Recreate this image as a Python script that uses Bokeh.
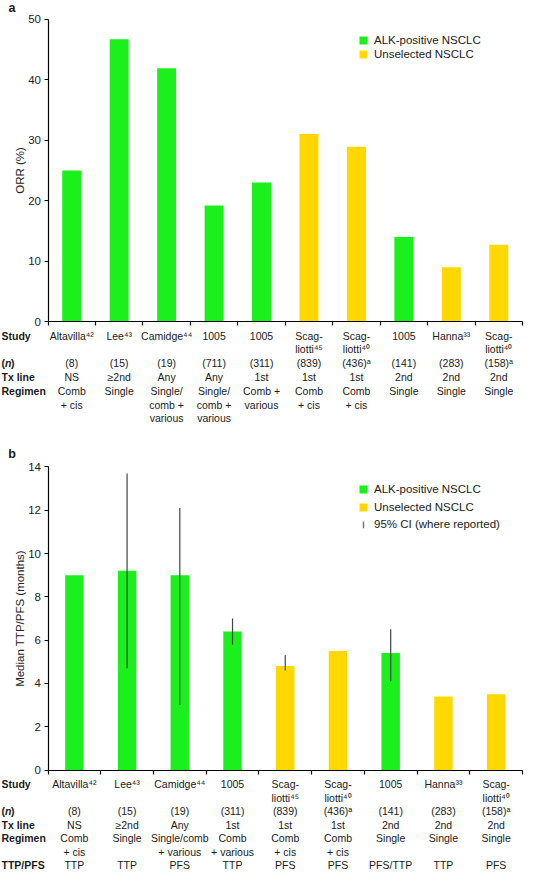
import math
from bokeh.plotting import figure
from bokeh.models import (Range1d, LinearAxis, FixedTicker, Legend, LegendItem,
                          ColumnDataSource)
from bokeh.layouts import column
from bokeh.core.properties import value
from bokeh.embed import file_html
from bokeh.resources import INLINE

# ---------------- data: panel a (ORR) ----------------
studies_a = ["Altavilla⁴²", "Lee⁴³", "Camidge⁴⁴", "1005", "1005", "Scag-\nliotti⁴⁵",
             "Scag-\nliotti⁴⁰", "1005", "Hanna³³", "Scag-\nliotti⁴⁰"]
n_a = ["(8)", "(15)", "(19)", "(711)", "(311)", "(839)", "(436)ᵃ", "(141)", "(283)", "(158)ᵃ"]
txline_a = ["NS", "≥2nd", "Any", "Any", "1st", "1st", "1st", "2nd", "2nd", "2nd"]
regimen_a = ["Comb\n+ cis", "Single", "Single/\ncomb +\nvarious", "Single/\ncomb +\nvarious",
             "Comb +\nvarious", "Comb\n+ cis", "Comb\n+ cis", "Single", "Single", "Single"]
orr = [25.0, 46.7, 41.9, 19.2, 23.0, 31.0, 28.9, 14.0, 9.0, 12.7]
group_a = ["ALK", "ALK", "ALK", "ALK", "ALK", "Unsel", "Unsel", "ALK", "Unsel", "Unsel"]
yticks_a = [0, 10, 20, 30, 40, 50]

# ---------------- data: panel b (TTP/PFS) ----------------
studies_b = ["Altavilla⁴²", "Lee⁴³", "Camidge⁴⁴", "1005", "Scag-\nliotti⁴⁵", "Scag-\nliotti⁴⁰",
             "1005", "Hanna³³", "Scag-\nliotti⁴⁰"]
n_b = ["(8)", "(15)", "(19)", "(311)", "(839)", "(436)ᵃ", "(141)", "(283)", "(158)ᵃ"]
txline_b = ["NS", "≥2nd", "Any", "1st", "1st", "1st", "2nd", "2nd", "2nd"]
regimen_b = ["Comb\n+ cis", "Single", "Single/comb\n+ various", "Comb\n+ various", "Comb\n+ cis",
             "Comb\n+ cis", "Single", "Single", "Single"]
endpoint_b = ["TTP", "TTP", "PFS", "TTP", "PFS", "PFS", "PFS/TTP", "TTP", "PFS"]
median = [9.0, 9.2, 9.0, 6.4, 4.8, 5.5, 5.4, 3.4, 3.5]
ci_low = [None, 4.7, 3.0, 5.8, 4.6, None, 4.1, None, None]
ci_high = [None, 13.7, 12.1, 7.0, 5.3, None, 6.5, None, None]
group_b = ["ALK", "ALK", "ALK", "ALK", "Unsel", "Unsel", "ALK", "Unsel", "Unsel"]
yticks_b = [0, 2, 4, 6, 8, 10, 12, 14]

series_labels = {"ALK": "ALK-positive NSCLC", "Unsel": "Unselected NSCLC"}
ci_label = "95% CI (where reported)"

# ---------------- style / layout ----------------
FONT = "Liberation Sans"
GREEN = "#1CF01C"
YELLOW = "#FFD800"
INK = "#1a1a1a"
W = 524
AXIS_X = 47.5
AXIS_END = 522.0


def make_frame(height, ncat, ymax, ymax_px, y0_px):
    kx = (AXIS_END - AXIS_X) / ncat
    xs = -0.5 - AXIS_X / kx
    xe = xs + W / kx
    ky = (y0_px - ymax_px) / ymax
    ye = ymax + ymax_px / ky
    ys = -(height - y0_px) / ky
    p = figure(width=W, height=height, x_range=Range1d(xs, xe), y_range=Range1d(ys, ye),
               output_backend="svg", toolbar_location=None, tools="",
               x_axis_location=None, y_axis_location=None, min_border=0,
               outline_line_color=None, background_fill_color="white",
               border_fill_color="white")
    p.grid.visible = False

    def px_x(px):
        return xs + px / kx

    def px_y(px):
        return (y0_px - px) / ky
    return p, px_x, px_y


def add_axes(p, ncat, ymax, yticks, ylabel):
    yax = LinearAxis(fixed_location=-0.5, bounds=(0, ymax), ticker=FixedTicker(ticks=yticks),
                     axis_label=ylabel)
    xt = [i - 0.5 for i in range(ncat + 1)]
    xax = LinearAxis(fixed_location=0, bounds=(-0.5, ncat - 0.5), ticker=FixedTicker(ticks=xt),
                     major_label_overrides={t: "" for t in xt})
    for ax in (yax, xax):
        ax.axis_line_color = "black"
        ax.axis_line_width = 1.2
        ax.major_tick_line_color = "black"
        ax.major_tick_line_width = 1.2
        ax.major_tick_in = 0
        ax.major_tick_out = 4
        ax.minor_tick_line_color = None
        ax.major_label_text_font = FONT
        ax.major_label_text_font_size = "11.5px"
        ax.major_label_text_color = "#222222"
        ax.major_label_standoff = 3
        ax.axis_label_text_font = FONT
        ax.axis_label_text_font_size = "11.5px"
        ax.axis_label_text_font_style = "normal"
        ax.axis_label_text_color = "#222222"
        ax.axis_label_standoff = 0
    p.add_layout(yax, "left")
    p.add_layout(xax, "below")


def add_bars(p, values, groups, width):
    rends = {}
    for grp, color in (("ALK", GREEN), ("Unsel", YELLOW)):
        idx = [i for i, g in enumerate(groups) if g == grp]
        src = ColumnDataSource(dict(x=idx, top=[values[i] for i in idx]))
        rends[grp] = p.vbar(x="x", top="top", bottom=0, width=width, source=src,
                            fill_color=color, line_color=None)
    return rends


def add_table(p, px_x, px_y, cols, row_px, headers):
    xs, ys, ts = [], [], []
    for start, vals in cols:
        for i, v in enumerate(vals):
            for j, line in enumerate(v.split("\n")):
                xs.append(i)
                ys.append(px_y(row_px[start + j]))
                ts.append(line)
    p.text(x=xs, y=ys, text=ts, text_align="center", text_baseline="middle",
           text_font=value(FONT), text_font_size="10.5px", text_color=INK)
    hx, hy, ht = [], [], []
    for row, label in headers:
        if label == "(n)":
            continue
        hx.append(px_x(1))
        hy.append(px_y(row_px[row]))
        ht.append(label)
    p.text(x=hx, y=hy, text=ht, text_align="left", text_baseline="middle",
           text_font=value(FONT), text_font_size="10.5px", text_font_style="bold", text_color=INK)
    # "(n)" with italic n
    nrow = [r for r, l in headers if l == "(n)"][0]
    yy = px_y(row_px[nrow])
    p.text(x=[px_x(1), px_x(10.6)], y=[yy, yy], text=["(", ")"], text_align="left",
           text_baseline="middle", text_font=value(FONT), text_font_size="10.5px",
           text_font_style="bold", text_color=INK)
    p.text(x=[px_x(4.5)], y=[yy], text=["n"], text_align="left", text_baseline="middle",
           text_font=value(FONT), text_font_size="10.5px", text_font_style="bold italic",
           text_color=INK)


def add_letter(p, px_x, px_y, letter, ypx):
    p.text(x=[px_x(11.6)], y=[px_y(ypx)], text=[letter], text_align="center",
           text_baseline="middle", text_font=value(FONT), text_font_size="12.5px",
           text_font_style="bold", text_color=INK)


def style_legend(leg, item_h, glyph, standoff):
    leg.glyph_width = glyph
    leg.glyph_height = glyph
    leg.label_height = item_h
    leg.label_standoff = standoff
    leg.spacing = 0
    leg.padding = 0
    leg.margin = 0
    leg.border_line_color = None
    leg.background_fill_alpha = 0
    leg.label_text_font = FONT
    leg.label_text_font_size = "11.5px"
    leg.label_text_color = INK


# ---------------- panel a ----------------
HA = 424
NA = len(orr)
pa, ax_x, ax_y = make_frame(HA, NA, 50, 18.7, 321.1)
add_axes(pa, NA, 50, yticks_a, "ORR (%)")
ra = add_bars(pa, orr, group_a, 0.4)
rows_a = [335 + 13.8 * k for k in range(7)]
add_table(pa, ax_x, ax_y,
          [(0, studies_a), (2, n_a), (3, txline_a), (4, regimen_a)], rows_a,
          [(0, "Study"), (2, "(n)"), (3, "Tx line"), (4, "Regimen")])
add_letter(pa, ax_x, ax_y, "a", 7.2)
leg_a = Legend(items=[LegendItem(label=series_labels["ALK"], renderers=[ra["ALK"]]),
                      LegendItem(label=series_labels["Unsel"], renderers=[ra["Unsel"]])],
               location=(358, HA - 61.3))
style_legend(leg_a, 14, 10, 6)
pa.add_layout(leg_a)

# ---------------- panel b ----------------
HB = 448
NB = len(median)
pb, bx_x, bx_y = make_frame(HB, NB, 14, 42.45, 345.5)
add_axes(pb, NB, 14, yticks_b, "Median TTP/PFS (months)")
rb = add_bars(pb, median, group_b, 0.35)
ci_idx = [i for i in range(NB) if ci_low[i] is not None]
ci_src = ColumnDataSource(dict(x=ci_idx, lo=[ci_low[i] for i in ci_idx],
                               hi=[ci_high[i] for i in ci_idx]))
ci_r = pb.segment(x0="x", y0="lo", x1="x", y1="hi", source=ci_src, line_color="#444444",
                  line_width=1.2)
rows_b = [359.6 + 13.5 * k for k in range(7)]
add_table(pb, bx_x, bx_y,
          [(0, studies_b), (2, n_b), (3, txline_b), (4, regimen_b), (6, endpoint_b)], rows_b,
          [(0, "Study"), (2, "(n)"), (3, "Tx line"), (4, "Regimen"), (6, "TTP/PFS")])
add_letter(pb, bx_x, bx_y, "b", 29.4)
leg_b = Legend(items=[LegendItem(label=series_labels["ALK"], renderers=[rb["ALK"]]),
                      LegendItem(label=series_labels["Unsel"], renderers=[rb["Unsel"]])],
               location=(358, HB - 91.7))
style_legend(leg_b, 18, 10, 6)
pb.add_layout(leg_b)

# CI key: legend label with an invisible glyph, plus a short vertical tick drawn
# at the legend glyph position (Bokeh legends cannot draw vertical line keys)
ci_hidden = pb.scatter(x=[float("nan")], y=[float("nan")], marker="square", size=1,
                       fill_alpha=0, line_alpha=0)
leg_b2 = Legend(items=[LegendItem(label=ci_label, renderers=[ci_hidden])],
                location=(354, HB - 109.4))
style_legend(leg_b2, 18, 18, 2)
pb.add_layout(leg_b2)
KEY_X, KEY_Y = 363.0, 100.4
pb.segment(x0=[bx_x(KEY_X)], y0=[bx_y(KEY_Y - 3.3)], x1=[bx_x(KEY_X)], y1=[bx_y(KEY_Y + 3.3)],
           line_color="#777777", line_width=1.5)

layout = column(pa, pb, spacing=0)
open("out.html", "w").write(file_html(layout, INLINE))
